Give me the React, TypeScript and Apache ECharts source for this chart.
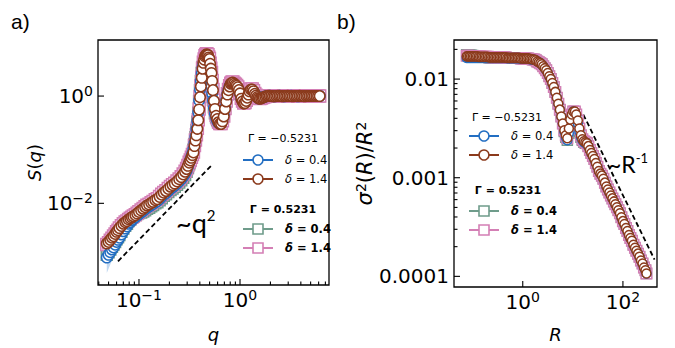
import React, { useEffect, useRef } from 'react';
import * as echarts from 'echarts';

// ---------- panel a) S(q) ----------
const qValues = [
  0.048, 0.050, 0.052, 0.054, 0.056, 0.058, 0.060, 0.062, 0.064, 0.067,
  0.070, 0.073, 0.076, 0.079, 0.082, 0.085, 0.088, 0.092, 0.096, 0.100,
  0.105, 0.110, 0.115, 0.120, 0.126, 0.132, 0.138, 0.145, 0.152, 0.160,
  0.168, 0.176, 0.185, 0.195, 0.205, 0.215, 0.226, 0.238, 0.250, 0.262,
  0.274, 0.286, 0.296, 0.305, 0.314, 0.322, 0.330, 0.338, 0.346, 0.354,
  0.362, 0.370, 0.378, 0.386, 0.394, 0.402, 0.410, 0.418, 0.426, 0.434,
  0.442, 0.450, 0.458, 0.466, 0.474, 0.482, 0.490, 0.498, 0.506, 0.514,
  0.522, 0.530, 0.540, 0.552, 0.565, 0.580, 0.595, 0.612, 0.630, 0.650,
  0.670, 0.690, 0.710, 0.730, 0.750, 0.770, 0.790, 0.810, 0.830, 0.850,
  0.875, 0.900, 0.925, 0.950, 0.975, 1.00, 1.03, 1.06, 1.09, 1.12,
  1.15, 1.18, 1.21, 1.24, 1.28, 1.32, 1.36, 1.40, 1.44, 1.48,
  1.52, 1.57, 1.62, 1.67, 1.72, 1.78, 1.84, 1.90, 1.97, 2.04,
  2.12, 2.20, 2.28, 2.37, 2.46, 2.55, 2.65, 2.75, 2.86, 2.97,
  3.08, 3.20, 3.33, 3.46, 3.60, 3.74, 3.89, 4.04, 4.20, 4.36,
  4.53, 4.71, 4.89, 5.08, 5.28, 5.48, 5.70, 5.92, 6.15,
];

// Γ = −0.5231, δ = 0.4 (blue circles)
const sNegD04 = [
  0.000977, 0.00110, 0.00123, 0.00138, 0.00151, 0.00170, 0.00191, 0.00209, 0.00229, 0.00263,
  0.00302, 0.00339, 0.00372, 0.00417, 0.00447, 0.00479, 0.00513, 0.00550, 0.00589, 0.00631,
  0.00676, 0.00724, 0.00776, 0.00832, 0.00871, 0.00933, 0.00977, 0.0105, 0.0110, 0.0120,
  0.0132, 0.0145, 0.0155, 0.0170, 0.0186, 0.0200, 0.0214, 0.0234, 0.0257, 0.0282,
  0.0316, 0.0355, 0.0407, 0.0479, 0.0562, 0.0646, 0.0741, 0.0851, 0.102, 0.132,
  0.174, 0.240, 0.339, 0.501, 0.832, 1.32, 1.91, 2.63, 3.39, 3.98,
  4.47, 4.90, 5.01, 5.01, 4.79, 4.37, 3.80, 3.16, 2.51, 2.00,
  1.51, 1.12, 0.832, 0.603, 0.468, 0.389, 0.347, 0.316, 0.309, 0.316,
  0.363, 0.447, 0.603, 0.832, 1.10, 1.32, 1.51, 1.66, 1.70, 1.70,
  1.62, 1.55, 1.48, 1.38, 1.26, 1.10, 0.912, 0.813, 0.759, 0.776,
  0.851, 0.955, 1.07, 1.20, 1.29, 1.29, 1.20, 1.10, 1.02, 0.955,
  0.912, 0.912, 0.933, 0.933, 0.955, 0.977, 1.00, 1.00, 1.01, 1.00,
  1.00, 0.99, 1.00, 1.00, 1.01, 1.00, 1.00, 0.99, 1.00, 1.00,
  1.00, 1.01, 1.00, 1.00, 1.00, 0.99, 1.00, 1.00, 1.00, 1.00,
  1.00, 1.00, 1.00, 1.00, 1.00, 1.00, 1.00, 1.00, 1.00,
];

// Γ = −0.5231, δ = 1.4 (brown circles)
const sNegD14 = [
  0.00178, 0.00191, 0.00209, 0.00229, 0.00245, 0.00269, 0.00295, 0.00316, 0.00347, 0.00380,
  0.00417, 0.00447, 0.00468, 0.00501, 0.00525, 0.00550, 0.00575, 0.00603, 0.00646, 0.00692,
  0.00741, 0.00794, 0.00851, 0.00912, 0.00955, 0.0102, 0.0107, 0.0115, 0.0120, 0.0132,
  0.0145, 0.0158, 0.0170, 0.0186, 0.0204, 0.0219, 0.0234, 0.0257, 0.0282, 0.0309,
  0.0347, 0.0389, 0.0437, 0.0501, 0.0575, 0.0631, 0.0708, 0.0794, 0.0891, 0.117,
  0.148, 0.186, 0.245, 0.355, 0.562, 0.955, 1.51, 2.19, 3.24, 4.17,
  4.79, 5.50, 5.75, 6.03, 5.89, 5.75, 5.25, 4.90, 3.98, 3.24,
  2.69, 1.91, 1.29, 0.813, 0.575, 0.427, 0.372, 0.324, 0.302, 0.302,
  0.339, 0.417, 0.575, 0.794, 1.07, 1.29, 1.51, 1.70, 1.76, 1.78,
  1.70, 1.62, 1.55, 1.45, 1.29, 1.12, 0.891, 0.794, 0.724, 0.741,
  0.813, 0.933, 1.07, 1.23, 1.32, 1.32, 1.23, 1.10, 1.02, 0.955,
  0.912, 0.891, 0.912, 0.933, 0.955, 0.977, 1.00, 1.01, 1.01, 1.00,
  0.99, 0.99, 1.00, 1.01, 1.01, 1.00, 0.99, 1.00, 1.00, 1.01,
  1.00, 1.00, 0.99, 1.00, 1.00, 1.00, 1.01, 1.00, 1.00, 0.99,
  1.00, 1.00, 1.00, 1.00, 1.00, 1.00, 1.00, 1.00, 1.00,
];

// Γ = 0.5231, δ = 0.4 (green squares)
const sPosD04 = [
  0.00110, 0.00123, 0.00138, 0.00155, 0.00170, 0.00190, 0.00214, 0.00234, 0.00257, 0.00295,
  0.00338, 0.00380, 0.00417, 0.00468, 0.00501, 0.00537, 0.00575, 0.00603, 0.00631, 0.00661,
  0.00676, 0.00705, 0.00745, 0.00790, 0.00827, 0.00886, 0.00928, 0.00998, 0.0105, 0.0114,
  0.0125, 0.0138, 0.0147, 0.0162, 0.0177, 0.0190, 0.0203, 0.0222, 0.0244, 0.0268,
  0.0300, 0.0337, 0.0387, 0.0455, 0.0534, 0.0614, 0.0704, 0.0808, 0.100, 0.128,
  0.170, 0.234, 0.331, 0.490, 0.813, 1.29, 1.91, 2.69, 3.47, 4.17,
  4.68, 5.13, 5.25, 5.25, 5.01, 4.57, 3.89, 3.24, 2.57, 2.04,
  1.55, 1.15, 0.851, 0.617, 0.479, 0.398, 0.355, 0.320, 0.309, 0.316,
  0.355, 0.437, 0.589, 0.813, 1.08, 1.30, 1.51, 1.66, 1.72, 1.72,
  1.64, 1.57, 1.50, 1.40, 1.27, 1.10, 0.912, 0.813, 0.750, 0.768,
  0.841, 0.950, 1.07, 1.21, 1.30, 1.30, 1.21, 1.10, 1.02, 0.955,
  0.912, 0.905, 0.925, 0.940, 0.960, 0.980, 1.00, 1.00, 1.00, 1.01,
  1.00, 0.99, 1.00, 1.00, 1.00, 1.01, 1.00, 0.99, 1.00, 1.00,
  1.01, 1.00, 1.00, 0.99, 1.00, 1.00, 1.00, 1.01, 1.00, 1.00,
  1.00, 1.00, 1.00, 1.00, 1.00, 1.00, 1.00, 1.00, 1.00,
];

// Γ = 0.5231, δ = 1.4 (pink squares)
const sPosD14 = [
  0.00170, 0.00185, 0.00204, 0.00224, 0.00245, 0.00269, 0.00295, 0.00316, 0.00347, 0.00380,
  0.00417, 0.00447, 0.00468, 0.00501, 0.00525, 0.00550, 0.00580, 0.00610, 0.00652, 0.00700,
  0.00750, 0.00805, 0.00860, 0.00920, 0.00965, 0.0103, 0.0108, 0.0116, 0.0122, 0.0134,
  0.0147, 0.0160, 0.0172, 0.0188, 0.0206, 0.0221, 0.0237, 0.0260, 0.0285, 0.0313,
  0.0352, 0.0395, 0.0445, 0.0510, 0.0585, 0.0645, 0.0720, 0.0810, 0.0910, 0.120,
  0.151, 0.190, 0.250, 0.363, 0.575, 0.977, 1.55, 2.24, 3.31, 4.27,
  4.90, 5.62, 5.89, 6.17, 6.03, 5.89, 5.37, 5.01, 4.07, 3.31,
  2.75, 1.95, 1.32, 0.832, 0.589, 0.437, 0.380, 0.331, 0.309, 0.309,
  0.347, 0.427, 0.589, 0.813, 1.10, 1.32, 1.55, 1.74, 1.80, 1.82,
  1.74, 1.66, 1.58, 1.48, 1.32, 1.15, 0.912, 0.813, 0.741, 0.759,
  0.832, 0.955, 1.10, 1.26, 1.35, 1.35, 1.26, 1.12, 1.04, 0.966,
  0.920, 0.900, 0.920, 0.940, 0.960, 0.980, 1.00, 1.01, 1.01, 1.00,
  0.99, 0.99, 1.00, 1.01, 1.01, 1.00, 0.99, 1.00, 1.00, 1.01,
  1.00, 1.00, 0.99, 1.00, 1.00, 1.00, 1.01, 1.00, 1.00, 0.99,
  1.00, 1.00, 1.00, 1.00, 1.00, 1.00, 1.00, 1.00, 1.00,
];

// shaded uncertainty band under the blue curve at small q
const bandQ = [0.048, 0.050, 0.052, 0.054, 0.056, 0.058, 0.060, 0.062, 0.064, 0.067];
const bandLow = [0.000501, 0.000603, 0.000724, 0.000871, 0.00105, 0.00126, 0.00151, 0.00182, 0.00214, 0.00251];
const bandHigh = [0.000977, 0.00110, 0.00123, 0.00138, 0.00151, 0.00170, 0.00191, 0.00209, 0.00229, 0.00263];

// ~q^2 guide
const guideQ = [0.062, 0.53];
const guideS = [0.00083, 0.0525];

// ---------- panel b) sigma^2(R)/R^2 ----------
const rValues = [
  0.076, 0.081, 0.087, 0.093, 0.100, 0.107, 0.115, 0.123, 0.132, 0.141,
  0.151, 0.162, 0.174, 0.186, 0.200, 0.214, 0.229, 0.246, 0.263, 0.282,
  0.302, 0.324, 0.347, 0.372, 0.398, 0.427, 0.457, 0.490, 0.525, 0.562,
  0.603, 0.646, 0.692, 0.741, 0.794, 0.851, 0.912, 0.977, 1.05, 1.12,
  1.20, 1.29, 1.38, 1.48, 1.58, 1.70, 1.82, 1.95, 2.09, 2.24,
  2.40, 2.57, 2.75, 2.95, 3.16, 3.39, 3.63, 3.89, 4.17, 4.47,
  4.79, 5.13, 5.50, 5.89, 6.31, 6.76, 7.24, 7.76, 8.32, 8.91,
  9.55, 10.2, 11.0, 11.7, 12.6, 13.5, 14.5, 15.5, 16.6, 17.8,
  19.1, 20.4, 21.9, 23.4, 25.1, 26.9, 28.8, 30.9, 33.1, 35.5,
  38.0, 40.7, 43.7, 46.8, 50.1, 53.7, 57.5, 61.7, 66.1, 70.8,
  75.9, 81.3, 87.1, 93.3, 100, 107, 115, 123, 132, 141,
  151, 162, 174, 186, 200, 214, 229, 246, 263, 282,
  295,
];

const vNegD04 = [
  0.0164, 0.0164, 0.0164, 0.0164, 0.0164, 0.0164, 0.0164, 0.0164, 0.0164, 0.0164,
  0.0164, 0.0164, 0.0164, 0.0164, 0.0164, 0.0164, 0.0164, 0.0164, 0.0164, 0.0164,
  0.0164, 0.0164, 0.0164, 0.0164, 0.0164, 0.0164, 0.0164, 0.0163, 0.0163, 0.0163,
  0.0163, 0.0163, 0.0163, 0.0163, 0.0163, 0.0163, 0.0161, 0.0161, 0.0161, 0.0161,
  0.0161, 0.0161, 0.0159, 0.0159, 0.0157, 0.0157, 0.0155, 0.0151, 0.0148, 0.0145,
  0.0141, 0.0135, 0.0129, 0.0123, 0.0115, 0.0107, 0.0100, 0.00912, 0.00832, 0.00741,
  0.00646, 0.00562, 0.00490, 0.00417, 0.00355, 0.00295, 0.00257, 0.00240, 0.00282, 0.00363,
  0.00427, 0.00468, 0.00457, 0.00417, 0.00355, 0.00295, 0.00257, 0.00240, 0.00229, 0.00224,
  0.00224, 0.00209, 0.00191, 0.00178, 0.00166, 0.00155, 0.00141, 0.00129, 0.00117, 0.00110,
  0.00105, 0.000977, 0.000891, 0.000813, 0.000759, 0.000708, 0.000661, 0.000617, 0.000575, 0.000537,
  0.000501, 0.000468, 0.000437, 0.000398, 0.000363, 0.000339, 0.000309, 0.000288, 0.000263, 0.000245,
  0.000229, 0.000209, 0.000195, 0.000182, 0.000170, 0.000158, 0.000145, 0.000135, 0.000123, 0.000115,
  0.000107,
];

const vNegD14 = [
  0.0170, 0.0170, 0.0170, 0.0170, 0.0170, 0.0170, 0.0170, 0.0170, 0.0168, 0.0168,
  0.0168, 0.0168, 0.0168, 0.0168, 0.0168, 0.0166, 0.0166, 0.0166, 0.0166, 0.0166,
  0.0166, 0.0166, 0.0166, 0.0166, 0.0166, 0.0166, 0.0166, 0.0164, 0.0164, 0.0164,
  0.0164, 0.0164, 0.0164, 0.0164, 0.0164, 0.0164, 0.0162, 0.0162, 0.0162, 0.0162,
  0.0162, 0.0162, 0.0160, 0.0160, 0.0158, 0.0158, 0.0155, 0.0151, 0.0148, 0.0145,
  0.0141, 0.0135, 0.0129, 0.0123, 0.0115, 0.0107, 0.0100, 0.00912, 0.00832, 0.00741,
  0.00646, 0.00562, 0.00490, 0.00417, 0.00355, 0.00302, 0.00269, 0.00251, 0.00316, 0.00389,
  0.00437, 0.00468, 0.00468, 0.00437, 0.00380, 0.00316, 0.00269, 0.00245, 0.00234, 0.00229,
  0.00224, 0.00209, 0.00191, 0.00178, 0.00166, 0.00155, 0.00141, 0.00129, 0.00117, 0.00110,
  0.00105, 0.000977, 0.000891, 0.000813, 0.000759, 0.000708, 0.000661, 0.000617, 0.000575, 0.000537,
  0.000501, 0.000468, 0.000437, 0.000398, 0.000363, 0.000339, 0.000309, 0.000288, 0.000263, 0.000245,
  0.000229, 0.000209, 0.000195, 0.000182, 0.000170, 0.000158, 0.000145, 0.000135, 0.000123, 0.000115,
  0.000107,
];

const vPosD04 = [
  0.0176, 0.0176, 0.0175, 0.0174, 0.0173, 0.0172, 0.0171, 0.0170, 0.0169, 0.0168,
  0.0168, 0.0167, 0.0167, 0.0166, 0.0166, 0.0165, 0.0165, 0.0165, 0.0165, 0.0165,
  0.0165, 0.0165, 0.0165, 0.0165, 0.0165, 0.0165, 0.0165, 0.0164, 0.0164, 0.0164,
  0.0164, 0.0164, 0.0164, 0.0164, 0.0164, 0.0164, 0.0162, 0.0162, 0.0162, 0.0162,
  0.0162, 0.0162, 0.0160, 0.0160, 0.0158, 0.0158, 0.0155, 0.0151, 0.0148, 0.0145,
  0.0141, 0.0135, 0.0129, 0.0123, 0.0115, 0.0107, 0.0100, 0.00912, 0.00832, 0.00741,
  0.00646, 0.00562, 0.00490, 0.00417, 0.00355, 0.00295, 0.00257, 0.00240, 0.00282, 0.00363,
  0.00427, 0.00468, 0.00457, 0.00417, 0.00355, 0.00295, 0.00257, 0.00240, 0.00229, 0.00224,
  0.00224, 0.00209, 0.00191, 0.00178, 0.00166, 0.00155, 0.00141, 0.00129, 0.00117, 0.00110,
  0.00105, 0.000977, 0.000891, 0.000813, 0.000759, 0.000708, 0.000661, 0.000617, 0.000575, 0.000537,
  0.000501, 0.000468, 0.000437, 0.000398, 0.000363, 0.000339, 0.000309, 0.000288, 0.000263, 0.000245,
  0.000229, 0.000209, 0.000195, 0.000182, 0.000170, 0.000158, 0.000145, 0.000135, 0.000123, 0.000115,
  0.000107,
];

const vPosD14 = [
  0.0172, 0.0172, 0.0172, 0.0171, 0.0171, 0.0171, 0.0170, 0.0170, 0.0169, 0.0169,
  0.0168, 0.0168, 0.0168, 0.0168, 0.0168, 0.0166, 0.0166, 0.0166, 0.0166, 0.0166,
  0.0166, 0.0166, 0.0166, 0.0166, 0.0166, 0.0166, 0.0166, 0.0164, 0.0164, 0.0164,
  0.0164, 0.0164, 0.0164, 0.0164, 0.0164, 0.0164, 0.0162, 0.0162, 0.0162, 0.0162,
  0.0162, 0.0162, 0.0160, 0.0160, 0.0158, 0.0158, 0.0155, 0.0151, 0.0148, 0.0145,
  0.0141, 0.0135, 0.0129, 0.0123, 0.0115, 0.0107, 0.0100, 0.00912, 0.00832, 0.00741,
  0.00646, 0.00562, 0.00490, 0.00417, 0.00355, 0.00302, 0.00269, 0.00251, 0.00316, 0.00389,
  0.00437, 0.00468, 0.00468, 0.00437, 0.00380, 0.00316, 0.00269, 0.00245, 0.00234, 0.00229,
  0.00224, 0.00209, 0.00191, 0.00178, 0.00166, 0.00155, 0.00141, 0.00129, 0.00117, 0.00110,
  0.00105, 0.000977, 0.000891, 0.000813, 0.000759, 0.000708, 0.000661, 0.000617, 0.000575, 0.000537,
  0.000501, 0.000468, 0.000437, 0.000398, 0.000363, 0.000339, 0.000309, 0.000288, 0.000263, 0.000245,
  0.000229, 0.000209, 0.000195, 0.000182, 0.000170, 0.000158, 0.000145, 0.000135, 0.000123, 0.000115,
  0.000107,
];

// ~R^-1 guide
const guideR = [16.2, 427];
const guideV = [0.00437, 0.000148];

// axis extents and tick positions
const qMin = 0.0393, qMax = 7.6, sMin = 0.0003, sMax = 11.1;
const rMin = 0.0424, rMax = 479, vMin = 0.000078, vMax = 0.0249;
const qMajorTicks = [0.1, 1];
const qMinorTicks = [0.04, 0.05, 0.06, 0.07, 0.08, 0.09, 0.2, 0.3, 0.4, 0.5, 0.6, 0.7, 0.8, 0.9, 2, 3, 4, 5, 6, 7];
const sMajorTicks = [0.01, 1];
const rMajorTicks = [1, 100];
const vMajorTicks = [0.0001, 0.001, 0.01];
const vMinorTicks = [0.0002, 0.0003, 0.0004, 0.0005, 0.0006, 0.0007, 0.0008, 0.0009,
  0.002, 0.003, 0.004, 0.005, 0.006, 0.007, 0.008, 0.009, 0.02];

const legendGroups = ['Γ = −0.5231', 'Γ = 0.5231'];
const legendDeltas = ['0.4', '1.4'];

const BLUE = '#226ec2';
const BROWN = '#8b3a1c';
const GREEN = '#6f9c8b';
const PINK = '#d47fb5';
const FONT = "'DejaVu Sans', sans-serif";

const zip = (xs: number[], ys: number[]) => xs.map((x, i) => [x, ys[i]]);

function powLabel(v: number, evenOnly: boolean) {
  const e = Math.log10(v);
  const r = Math.round(e);
  if (Math.abs(e - r) > 1e-3) return '';
  if (evenOnly && r % 2 !== 0) return '';
  const ex = r < 0 ? '−' + -r : String(r);
  return `{b|10}{s|${ex}}`;
}

function decLabel(v: number) {
  const e = Math.log10(v);
  const r = Math.round(e);
  if (Math.abs(e - r) > 1e-3) return '';
  return '0.' + '0'.repeat(-r - 1) + '1';
}

const labelRich = {
  b: { fontSize: 20, fontFamily: FONT, color: '#000', lineHeight: 24 },
  s: { fontSize: 14, fontFamily: FONT, color: '#000', verticalAlign: 'top', lineHeight: 14 },
};

function tickSeries(idx: number, dir: 'x' | 'y', values: number[], len: number, other: number) {
  return {
    type: 'custom',
    xAxisIndex: idx,
    yAxisIndex: idx,
    z: 10,
    silent: true,
    clip: false,
    data: values.map((v) => (dir === 'x' ? [v, other] : [other, v])),
    renderItem: (_p: any, api: any) => {
      const pt = api.coord([api.value(0), api.value(1)]);
      const shape = dir === 'x'
        ? { x1: pt[0], y1: pt[1], x2: pt[0], y2: pt[1] - len }
        : { x1: pt[0], y1: pt[1], x2: pt[0] + len, y2: pt[1] };
      return { type: 'line', shape, style: { stroke: '#000', lineWidth: 1.1 } };
    },
  };
}

function markerSeries(idx: number, xs: number[], ys: number[], color: string, symbol: string, size: number) {
  return {
    type: 'line',
    xAxisIndex: idx,
    yAxisIndex: idx,
    data: zip(xs, ys),
    symbol,
    symbolSize: size,
    showSymbol: true,
    showAllSymbol: true,
    silent: true,
    lineStyle: { color, width: 1.6 },
    itemStyle: { color: '#fff', borderColor: color, borderWidth: 1.5 },
  };
}

function legendRow(x0: number, y: number, color: string, shape: 'circle' | 'rect', delta: string, bold: boolean) {
  const marker = shape === 'circle'
    ? { type: 'circle', shape: { cx: x0 + 15, cy: y, r: 5 }, style: { fill: '#fff', stroke: color, lineWidth: 1.6 } }
    : { type: 'rect', shape: { x: x0 + 10, y: y - 5, width: 10, height: 10 }, style: { fill: '#fff', stroke: color, lineWidth: 1.6 } };
  const w = bold ? 'bold' : 'normal';
  return [
    { type: 'line', shape: { x1: x0, y1: y, x2: x0 + 30, y2: y }, style: { stroke: color, lineWidth: 2 } },
    marker,
    {
      type: 'text', x: x0 + 42, y,
      style: {
        text: `{i|δ} = ${delta}`, fill: '#000', fontSize: 11.5, fontFamily: FONT, fontWeight: w,
        verticalAlign: 'middle', textVerticalAlign: 'middle',
        rich: { i: { fontStyle: 'italic', fontWeight: w, fontSize: 11.5, fontFamily: FONT, fill: '#000' } },
      },
    },
  ];
}

function legendTitle(cx: number, y: number, text: string, bold: boolean) {
  return {
    type: 'text', x: cx, y,
    style: {
      text, fill: '#000', fontSize: 11, fontFamily: FONT, fontWeight: bold ? 'bold' : 'normal',
      align: 'center', textAlign: 'center', verticalAlign: 'middle', textVerticalAlign: 'middle',
    },
  };
}

function buildOption() {
  const nameRich = {
    i: { fontStyle: 'italic', fontSize: 18, fontFamily: FONT, color: '#000' },
    n: { fontSize: 18, fontFamily: FONT, color: '#000' },
    si: { fontStyle: 'italic', fontSize: 21, fontFamily: FONT, color: '#000' },
    sn: { fontSize: 21, fontFamily: FONT, color: '#000' },
    ss: { fontSize: 14, fontFamily: FONT, color: '#000', verticalAlign: 'top' },
  };
  const baseAxis = {
    type: 'log',
    logBase: 10,
    axisLine: { show: false },
    axisTick: { show: false },
    splitLine: { show: false },
    nameLocation: 'middle',
    nameTextStyle: { rich: nameRich },
  };
  return {
    animation: false,
    backgroundColor: '#fff',
    grid: [
      { left: 98, top: 40, width: 231, height: 249, show: true, borderColor: '#000', borderWidth: 1.3, backgroundColor: 'transparent' },
      { left: 454, top: 40, width: 203, height: 256, show: true, borderColor: '#000', borderWidth: 1.3, backgroundColor: 'transparent' },
    ],
    xAxis: [
      {
        ...baseAxis, gridIndex: 0, min: qMin, max: qMax, name: '{i|q}', nameGap: 40,
        axisLabel: { margin: 3, formatter: (v: number) => powLabel(v, false), rich: labelRich },
      },
      {
        ...baseAxis, gridIndex: 1, min: rMin, max: rMax, name: '{i|R}', nameGap: 38,
        axisLabel: { margin: 3, formatter: (v: number) => powLabel(v, true), rich: labelRich },
      },
    ],
    yAxis: [
      {
        ...baseAxis, gridIndex: 0, min: sMin, max: sMax, splitNumber: 5,
        name: '{i|S}{n|(}{i|q}{n|)}', nameGap: 50,
        axisLabel: { margin: 5, formatter: (v: number) => powLabel(v, true), rich: labelRich },
      },
      {
        ...baseAxis, gridIndex: 1, min: vMin, max: vMax,
        name: '{si|σ}{ss|2}{sn|(}{si|R}{sn|)/}{si|R}{ss|2}', nameGap: 76,
        axisLabel: { margin: 5, formatter: (v: number) => decLabel(v), fontSize: 20, fontFamily: FONT, color: '#000' },
      },
    ],
    graphic: [
      { type: 'text', x: 11, y: 21, style: { text: 'a)', fill: '#000', fontSize: 21, fontFamily: "'Liberation Sans', Arial, sans-serif", verticalAlign: 'middle', textVerticalAlign: 'middle' } },
      { type: 'text', x: 337, y: 21, style: { text: 'b)', fill: '#000', fontSize: 21, fontFamily: "'Liberation Sans', Arial, sans-serif", verticalAlign: 'middle', textVerticalAlign: 'middle' } },
      {
        type: 'text', x: 176, y: 222,
        style: {
          text: '{a|~q}{s|2}', verticalAlign: 'middle', textVerticalAlign: 'middle',
          rich: { a: { fontSize: 27, fontFamily: 'Lato', fill: '#000', lineHeight: 30 }, s: { fontSize: 15, fontFamily: 'Lato', fill: '#000', verticalAlign: 'top', lineHeight: 15 } },
        },
      },
      {
        type: 'text', x: 608, y: 164,
        style: {
          text: '{a|~R}{s|-1}', verticalAlign: 'middle', textVerticalAlign: 'middle',
          rich: { a: { fontSize: 23, fontFamily: 'Lato', fill: '#000', lineHeight: 26 }, s: { fontSize: 13, fontFamily: 'Lato', fill: '#000', verticalAlign: 'top', lineHeight: 13 } },
        },
      },
      legendTitle(283, 138, legendGroups[0], false),
      ...legendRow(243, 160, BLUE, 'circle', legendDeltas[0], false),
      ...legendRow(243, 179, BROWN, 'circle', legendDeltas[1], false),
      legendTitle(283, 209, legendGroups[1], true),
      ...legendRow(243, 229, GREEN, 'rect', legendDeltas[0], true),
      ...legendRow(243, 248, PINK, 'rect', legendDeltas[1], true),
      legendTitle(507, 117, legendGroups[0], false),
      ...legendRow(469, 136, BLUE, 'circle', legendDeltas[0], false),
      ...legendRow(469, 155, BROWN, 'circle', legendDeltas[1], false),
      legendTitle(508, 190, legendGroups[1], true),
      ...legendRow(469, 211, GREEN, 'rect', legendDeltas[0], true),
      ...legendRow(469, 230, PINK, 'rect', legendDeltas[1], true),
    ],
    series: [
      {
        type: 'custom', xAxisIndex: 0, yAxisIndex: 0, z: 1, silent: true,
        data: [[bandQ[0], bandLow[0]]],
        renderItem: (_p: any, api: any) => {
          const pts: number[][] = [];
          bandQ.forEach((q, i) => pts.push(api.coord([q, bandHigh[i]])));
          for (let i = bandQ.length - 1; i >= 0; i--) pts.push(api.coord([bandQ[i], bandLow[i]]));
          return { type: 'polygon', shape: { points: pts }, style: { fill: 'rgba(120,170,225,0.45)' } };
        },
      },
      {
        type: 'line', xAxisIndex: 0, yAxisIndex: 0, data: zip(guideQ, guideS), symbol: 'none', silent: true,
        lineStyle: { color: '#000', width: 1.8, type: [5, 3] },
      },
      markerSeries(0, qValues, sPosD04, GREEN, 'rect', 11),
      markerSeries(0, qValues, sPosD14, PINK, 'rect', 12),
      markerSeries(0, qValues, sNegD04, BLUE, 'circle', 10.5),
      markerSeries(0, qValues, sNegD14, BROWN, 'circle', 10.5),
      {
        type: 'line', xAxisIndex: 1, yAxisIndex: 1, data: zip(guideR, guideV), symbol: 'none', silent: true,
        lineStyle: { color: '#000', width: 1.8, type: [5, 3] },
      },
      markerSeries(1, rValues, vPosD04, GREEN, 'rect', 10),
      markerSeries(1, rValues, vPosD14, PINK, 'rect', 10.5),
      markerSeries(1, rValues, vNegD04, BLUE, 'circle', 9),
      markerSeries(1, rValues, vNegD14, BROWN, 'circle', 9),
      tickSeries(0, 'x', qMajorTicks, 6, sMin),
      tickSeries(0, 'x', qMinorTicks, 3.5, sMin),
      tickSeries(0, 'y', sMajorTicks, 6, qMin),
      tickSeries(1, 'x', rMajorTicks, 6, vMin),
      tickSeries(1, 'y', vMajorTicks, 6, rMin),
      tickSeries(1, 'y', vMinorTicks, 3.5, rMin),
    ],
  };
}

export default function App() {
  const ref = useRef<HTMLDivElement>(null);
  useEffect(() => {
    if (!ref.current) return;
    const chart = echarts.init(ref.current, null, { renderer: 'svg' });
    chart.setOption(buildOption() as any);
    return () => chart.dispose();
  }, []);
  return <div ref={ref} style={{ position: 'absolute', left: 0, top: 0, width: 675, height: 348 }} />;
}
